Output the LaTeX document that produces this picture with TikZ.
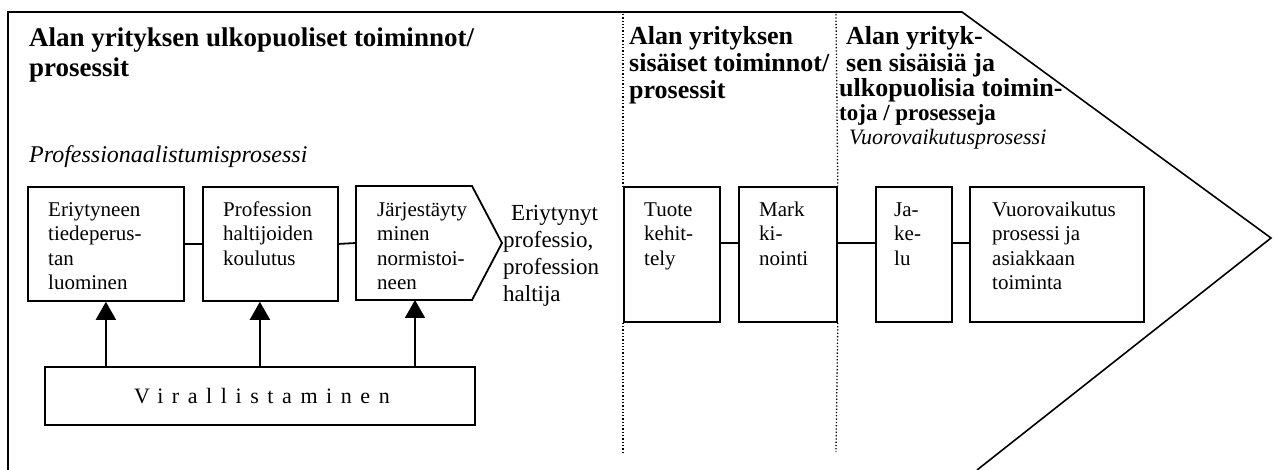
\documentclass[tikz,border=0pt]{standalone}
\usepackage{fontspec}
\setmainfont{Liberation Serif}
\usetikzlibrary{arrows.meta}
\begin{document}
\begin{tikzpicture}[x=1pt,y=-1pt,
  frame/.style={line width=1.6pt,line join=miter},
  pbox/.style={draw,line width=1.8pt,inner sep=0pt,anchor=north west},
  ptext/.style={anchor=base west,inner sep=0pt,align=left,font=\fontsize{21}{24.5}\selectfont},
  head/.style={anchor=base west,inner sep=0pt,align=left,font=\bfseries\fontsize{26}{27}\selectfont},
  sub/.style={anchor=base west,inner sep=0pt,font=\itshape\fontsize{22}{27}\selectfont},
  link/.style={line width=1.8pt},
  up/.style={line width=1.8pt,-{Triangle[width=20pt,length=18pt]}},
  sep/.style={dotted,line width=1.3pt}]
\useasboundingbox (0,0) rectangle (1275,470);

% outer arrow-shaped frame, open at the bottom
\coordinate (fbl) at (8,470);
\coordinate (ftl) at (8,12);
\coordinate (ftr) at (962,12);
\coordinate (ftip) at (1271,238);
\coordinate (fbr) at (977,470);
\draw[frame] (fbl) -- (ftl) -- (ftr) -- (ftip) -- (fbr);

% section headings (multi-line nodes are placed by the baseline of their last line)
\node[head,font=\bfseries\fontsize{27}{30}\selectfont] (h1) at (29,77)
  {Alan yrityksen ulkopuoliset toiminnot/\\prosessit};
\node[head] (h2) at (629,99) {Alan yrityksen\\sisäiset toiminnot/\\prosessit};
\node[head] (h3a) at (846,45) {Alan yrityk-};
\node[head] (h3b) at (846,72) {sen sisäisiä ja};
\node[head] (h3c) at (839,97) {ulkopuolisia toimin-};
\node[head,font=\bfseries\fontsize{23}{25}\selectfont] (h3d) at (839,121) {toja / prosesseja};
\node[sub,font=\itshape\fontsize{24}{27}\selectfont] (s1) at (29,163) {Professionaalistumisprosessi};
\node[sub] (s2) at (849,145) {Vuorovaikutusprosessi};

% professionalisation chain
\node[pbox,minimum width=156pt,minimum height=114pt] (b1) at (27,186) {};
\node[pbox,minimum width=135pt,minimum height=114pt] (b2) at (202,186) {};
\coordinate (b3nw) at (356,186);
\coordinate (b3ne) at (472,186);
\coordinate (b3tip) at (502,243);
\coordinate (b3se) at (472,300);
\coordinate (b3sw) at (356,300);
\coordinate (b3w) at (356,243);
\coordinate (b3s) at (415,300);
\draw[link,line join=miter] (b3nw) -- (b3ne) -- (b3tip) -- (b3se) -- (b3sw) -- cycle;

\node[ptext] (t1) at (48,290) {Eriytyneen\\tiedeperus-\\tan\\luominen};
\node[ptext] (t2) at (223,265.5) {Profession\\haltijoiden\\koulutus};
\node[ptext] (t3) at (377,290) {Järjestäyty\\minen\\normistoi-\\neen};
\node[anchor=base west,inner sep=0pt,align=left,font=\fontsize{23}{27.3}\selectfont] (res) at (503,302)
  {\hspace{8pt}Eriytynyt\\professio,\\profession\\haltija};

\draw[link] (b1.east) -- (b2.west);
\draw[link] (b2.east) -- (b3w);

% legitimation box and its arrows
\node[pbox,minimum width=430pt,minimum height=58pt] (vir) at (44,366) {};
\node[anchor=base,inner sep=0pt,font=\fontsize{22}{24}\selectfont\addfontfeature{LetterSpace=39}] (virt) at (262,403) {Virallistaminen};
\draw[up] (vir.north -| b1.south) -- (b1.south);
\draw[up] ([xshift=-10.5pt]b2.south |- vir.north) -- ([xshift=-10.5pt]b2.south);
\draw[up] (b3s |- vir.north) -- (b3s);

% firm-internal and interaction processes
\node[pbox,minimum width=96pt,minimum height=135pt] (r1) at (623,186) {};
\node[pbox,minimum width=98pt,minimum height=135pt] (r2) at (738,186) {};
\node[pbox,minimum width=76pt,minimum height=135pt] (r3) at (875,186) {};
\node[pbox,minimum width=174pt,minimum height=135pt] (r4) at (969,186) {};
\node[ptext] (u1) at (644,265.5) {Tuote\\kehit-\\tely};
\node[ptext] (u2) at (759,265.5) {Mark\\ki-\\nointi};
\node[ptext] (u3) at (894,265.5) {Ja-\\ke-\\lu};
\node[ptext] (u4) at (992,290) {Vuorovaikutus\\prosessi ja\\asiakkaan\\toiminta};
\draw[link] ([yshift=-57pt]r1.north east) -- ([yshift=-57pt]r2.north west);
\draw[link] ([yshift=-57pt]r2.north east) -- ([yshift=-57pt]r3.north west);
\draw[link] ([yshift=-57pt]r3.north east) -- ([yshift=-57pt]r4.north west);

% dotted section borders
\coordinate (d1top) at (623,14);
\coordinate (d1bot) at (623,452);
\coordinate (d2top) at (836,14);
\coordinate (d2bot) at (836,452);
\draw[sep] (d1top) -- (r1.north west);
\draw[sep] (r1.south west) -- (d1bot);
\draw[sep] (d2top) -- (r2.north east);
\draw[sep] (r2.south east) -- (d2bot);
\end{tikzpicture}
\end{document}
